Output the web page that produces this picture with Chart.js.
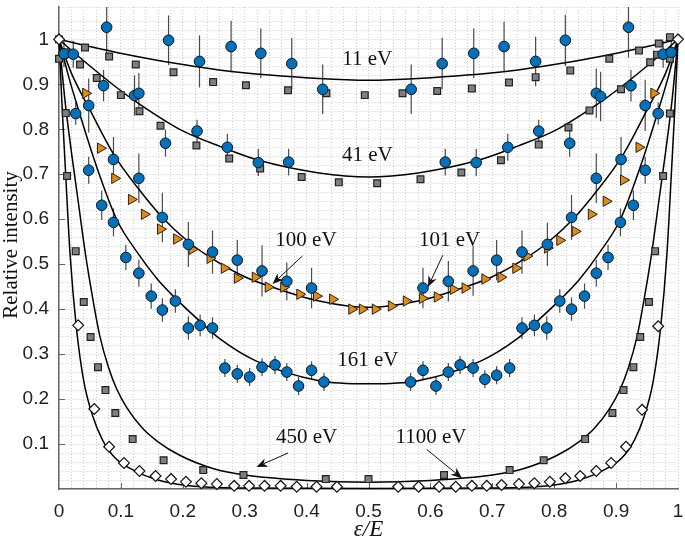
<!DOCTYPE html>
<html>
<head>
<meta charset="utf-8">
<script src="https://cdn.jsdelivr.net/npm/chart.js@4.4.1/dist/chart.umd.min.js"></script>
<style>
  html, body { margin: 0; padding: 0; background: #fff; }
</style>
</head>
<body>
<canvas id="chart" width="685" height="543"></canvas>
<script>
// theory curves
const curve11X = [0, 0.04, 0.093, 0.195, 0.275, 0.42, 0.5, 0.58, 0.725, 0.805, 0.907, 0.96, 1];
const curve11Y = [1, 0.987, 0.971, 0.945, 0.929, 0.913, 0.909, 0.913, 0.929, 0.945, 0.971, 0.987, 1];

const curve41X = [0, 0.035, 0.093, 0.13, 0.195, 0.26, 0.323, 0.42, 0.5, 0.58, 0.677, 0.74, 0.805, 0.87, 0.907, 0.965, 1];
const curve41Y = [1, 0.958, 0.893, 0.856, 0.80, 0.762, 0.731, 0.703, 0.694, 0.703, 0.731, 0.762, 0.80, 0.856, 0.893, 0.958, 1];

const curve100X = [0, 0.02, 0.05, 0.088, 0.13, 0.167, 0.209, 0.25, 0.3, 0.34, 0.42, 0.5, 0.58, 0.66, 0.7, 0.75, 0.791, 0.833, 0.87, 0.912, 0.95, 0.98, 1];
const curve100Y = [1, 0.925, 0.843, 0.745, 0.665, 0.604, 0.55, 0.51, 0.472, 0.451, 0.418, 0.404, 0.418, 0.451, 0.472, 0.51, 0.55, 0.604, 0.665, 0.745, 0.843, 0.925, 1];

const curve161X = [0, 0.015, 0.03, 0.06, 0.093, 0.127, 0.16, 0.195, 0.23, 0.259, 0.318, 0.42, 0.5, 0.58, 0.682, 0.741, 0.77, 0.805, 0.84, 0.873, 0.907, 0.94, 0.97, 0.985, 1];
const curve161Y = [1, 0.92, 0.85, 0.72, 0.60, 0.525, 0.465, 0.415, 0.37, 0.335, 0.285, 0.241, 0.234, 0.241, 0.285, 0.335, 0.37, 0.415, 0.465, 0.525, 0.60, 0.72, 0.85, 0.92, 1];

const curve450X = [0, 0.01, 0.02, 0.03, 0.043, 0.055, 0.066, 0.08, 0.093, 0.11, 0.135, 0.16, 0.195, 0.25, 0.3, 0.4, 0.5, 0.6, 0.7, 0.75, 0.805, 0.84, 0.865, 0.89, 0.907, 0.92, 0.934, 0.945, 0.957, 0.97, 0.98, 0.99, 1];
const curve450Y = [1, 0.86, 0.75, 0.65, 0.52, 0.42, 0.34, 0.27, 0.223, 0.18, 0.135, 0.105, 0.075, 0.045, 0.031, 0.019, 0.015, 0.019, 0.031, 0.045, 0.075, 0.105, 0.135, 0.18, 0.223, 0.27, 0.34, 0.42, 0.52, 0.65, 0.75, 0.86, 1];

const curve1100X = [0, 0.005, 0.01, 0.018, 0.028, 0.04, 0.055, 0.07, 0.09, 0.12, 0.16, 0.2, 0.3, 0.5, 0.7, 0.8, 0.84, 0.88, 0.91, 0.93, 0.945, 0.96, 0.972, 0.982, 0.99, 0.995, 1];
const curve1100Y = [1, 0.85, 0.72, 0.52, 0.36, 0.24, 0.16, 0.11, 0.07, 0.042, 0.02, 0.009, 0.002, 0.001, 0.002, 0.009, 0.02, 0.042, 0.07, 0.11, 0.16, 0.24, 0.36, 0.52, 0.72, 0.85, 1];

// measured points, blue circles with error bars
const circ11X = [0.077, 0.177, 0.227, 0.278, 0.326, 0.376, 0.426, 0.569, 0.619, 0.670, 0.719, 0.770, 0.818, 0.920];
const circ11Y = [1.027, 0.998, 0.951, 0.984, 0.969, 0.946, 0.889, 0.889, 0.946, 0.969, 0.984, 0.951, 0.998, 1.027];
const circ11Err = [0.07, 0.055, 0.058, 0.057, 0.055, 0.057, 0.055, 0.055, 0.057, 0.055, 0.055, 0.055, 0.057, 0.067];

const circ41X = [0.008, 0.023, 0.027, 0.048, 0.072, 0.122, 0.129, 0.172, 0.223, 0.272, 0.322, 0.371, 0.624, 0.674, 0.725, 0.775, 0.825, 0.868, 0.875, 0.924, 0.947, 0.968, 0.976, 0.989];
const circ41Y = [0.968, 0.967, 0.835, 0.853, 0.897, 0.875, 0.880, 0.769, 0.796, 0.760, 0.726, 0.727, 0.727, 0.726, 0.760, 0.796, 0.769, 0.880, 0.873, 0.897, 0.853, 0.835, 0.967, 0.971];
const circ41Err = [0.03, 0.03, 0.025, 0.06, 0.035, 0.045, 0.045, 0.03, 0.025, 0.03, 0.03, 0.03, 0.03, 0.03, 0.03, 0.025, 0.03, 0.055, 0.055, 0.035, 0.057, 0.025, 0.03, 0.03];

const circ100X = [0.048, 0.088, 0.129, 0.167, 0.209, 0.248, 0.288, 0.328, 0.368, 0.408, 0.588, 0.629, 0.669, 0.707, 0.748, 0.789, 0.828, 0.868, 0.908, 0.947];
const circ100Y = [0.709, 0.733, 0.691, 0.604, 0.544, 0.527, 0.509, 0.485, 0.462, 0.447, 0.447, 0.462, 0.485, 0.509, 0.527, 0.544, 0.604, 0.691, 0.733, 0.709];
const circ100Err = [0.03, 0.05, 0.055, 0.055, 0.05, 0.048, 0.045, 0.057, 0.042, 0.045, 0.045, 0.045, 0.055, 0.045, 0.048, 0.048, 0.05, 0.055, 0.05, 0.03];

const circ161X = [0.069, 0.088, 0.108, 0.129, 0.149, 0.167, 0.188, 0.209, 0.228, 0.248, 0.268, 0.288, 0.308, 0.328, 0.349, 0.368, 0.387, 0.408, 0.428, 0.568, 0.588, 0.609, 0.629, 0.648, 0.669, 0.688, 0.707, 0.728, 0.748, 0.768, 0.788, 0.809, 0.828, 0.849, 0.868, 0.887, 0.907, 0.928];
const circ161Y = [0.631, 0.593, 0.515, 0.480, 0.429, 0.398, 0.418, 0.358, 0.364, 0.358, 0.269, 0.256, 0.249, 0.271, 0.276, 0.260, 0.229, 0.264, 0.238, 0.238, 0.264, 0.229, 0.260, 0.276, 0.269, 0.244, 0.253, 0.269, 0.358, 0.364, 0.358, 0.418, 0.400, 0.429, 0.480, 0.515, 0.593, 0.631];
const circ161Err = [0.033, 0.031, 0.028, 0.03, 0.028, 0.026, 0.026, 0.026, 0.024, 0.024, 0.02, 0.02, 0.02, 0.02, 0.02, 0.02, 0.02, 0.02, 0.02, 0.02, 0.02, 0.02, 0.02, 0.02, 0.02, 0.02, 0.02, 0.02, 0.024, 0.024, 0.026, 0.026, 0.026, 0.028, 0.03, 0.028, 0.031, 0.033];

// orange triangles (100 eV)
const tri100X = [0.018, 0.043, 0.067, 0.09, 0.117, 0.138, 0.164, 0.190, 0.215, 0.244, 0.267, 0.288, 0.317, 0.338, 0.363, 0.389, 0.416, 0.442, 0.473, 0.490, 0.511, 0.537, 0.561, 0.587, 0.611, 0.637, 0.656, 0.688, 0.714, 0.738, 0.756, 0.789, 0.809, 0.834, 0.860, 0.884, 0.912, 0.937, 0.961];
const tri100Y = [0.969, 0.880, 0.758, 0.691, 0.644, 0.611, 0.578, 0.556, 0.533, 0.513, 0.491, 0.469, 0.471, 0.449, 0.449, 0.433, 0.429, 0.422, 0.400, 0.400, 0.400, 0.407, 0.418, 0.424, 0.427, 0.444, 0.447, 0.467, 0.471, 0.491, 0.518, 0.536, 0.553, 0.573, 0.611, 0.640, 0.687, 0.760, 0.880];

// gray squares
const sq11X = [0, 0.042, 0.081, 0.124, 0.185, 0.249, 0.302, 0.37, 0.432, 0.494, 0.555, 0.611, 0.667, 0.727, 0.770, 0.826, 0.889, 0.937, 0.969, 0.987];
const sq11Y = [1, 0.982, 0.962, 0.944, 0.927, 0.905, 0.898, 0.887, 0.880, 0.876, 0.880, 0.885, 0.891, 0.904, 0.916, 0.931, 0.957, 0.975, 0.991, 1.005];
const sq41X = [0.034, 0.061, 0.1, 0.130, 0.164, 0.222, 0.275, 0.325, 0.392, 0.452, 0.514, 0.584, 0.650, 0.714, 0.775, 0.823, 0.857, 0.908, 0.955, 0.966];
const sq41Y = [0.944, 0.914, 0.876, 0.840, 0.808, 0.764, 0.735, 0.713, 0.694, 0.682, 0.680, 0.689, 0.704, 0.731, 0.766, 0.804, 0.842, 0.889, 0.949, 0.966];
const sq450X = [0, 0.011, 0.013, 0.027, 0.040, 0.051, 0.063, 0.075, 0.091, 0.119, 0.169, 0.233, 0.298, 0.431, 0.500, 0.622, 0.728, 0.783, 0.850, 0.894, 0.912, 0.928, 0.939, 0.953, 0.963, 0.976, 0.987, 0.987];
const sq450Y = [0.957, 0.836, 0.696, 0.529, 0.416, 0.338, 0.271, 0.220, 0.169, 0.111, 0.064, 0.042, 0.031, 0.022, 0.022, 0.031, 0.042, 0.064, 0.111, 0.169, 0.220, 0.271, 0.338, 0.416, 0.529, 0.696, 0.835, 0.957];

// white diamonds (1100 eV)
const dia1100X = [0, 0.031, 0.057, 0.081, 0.105, 0.130, 0.156, 0.181, 0.205, 0.230, 0.255, 0.283, 0.307, 0.332, 0.358, 0.384, 0.416, 0.449, 0.548, 0.581, 0.614, 0.641, 0.667, 0.691, 0.715, 0.743, 0.768, 0.793, 0.818, 0.842, 0.868, 0.892, 0.916, 0.942, 0.968, 1];
const dia1100Y = [1, 0.364, 0.178, 0.094, 0.058, 0.040, 0.029, 0.022, 0.016, 0.013, 0.011, 0.007, 0.007, 0.007, 0.007, 0.005, 0.005, 0.005, 0.005, 0.005, 0.005, 0.005, 0.007, 0.007, 0.009, 0.011, 0.013, 0.016, 0.024, 0.029, 0.040, 0.058, 0.094, 0.176, 0.362, 1];

// text annotations
const labelText = ['11 eV', '41 eV', '100 eV', '101 eV', '161 eV', '450 eV', '1100 eV'];
const labelX = [0.498, 0.498, 0.399, 0.631, 0.499, 0.4, 0.601];
const labelY = [0.956, 0.741, 0.553, 0.553, 0.285, 0.115, 0.115];
const arrowFromX = [0.393, 0.620, 0.370, 0.594];
const arrowFromY = [0.518, 0.520, 0.080, 0.088];
const arrowToX = [0.345, 0.596, 0.319, 0.651];
const arrowToY = [0.456, 0.449, 0.049, 0.024];

const pts = (xs, ys) => xs.map((x, i) => ({ x: x, y: ys[i] }));

function curve(xs, ys) {
  return {
    type: 'line', data: pts(xs, ys), borderColor: '#000', borderWidth: 1.5,
    pointRadius: 0, fill: false, cubicInterpolationMode: 'monotone', order: 10, clip: false
  };
}
function markers(xs, ys, style) {
  return Object.assign({ type: 'scatter', data: pts(xs, ys), showLine: false, clip: false }, style);
}

const circleStyle = { pointStyle: 'circle', pointRadius: 5.3, pointBackgroundColor: '#0072BD', pointBorderColor: '#111', pointBorderWidth: 1, order: 1 };
const squareStyle = { pointStyle: 'rect', pointRadius: 4.8, pointBackgroundColor: '#7f7f7f', pointBorderColor: '#222', pointBorderWidth: 1.2, order: 3 };
const diamondStyle = { pointStyle: 'rectRot', pointRadius: 5.4, pointBackgroundColor: '#fff', pointBorderColor: '#111', pointBorderWidth: 1.2, order: 2 };
const triStyle = { pointStyle: 'triangle', pointRotation: 90, pointRadius: 6, pointBackgroundColor: '#E5890F', pointBorderColor: '#222', pointBorderWidth: 1, order: 2 };

const errSets = [[circ11X, circ11Y, circ11Err], [circ41X, circ41Y, circ41Err], [circ100X, circ100Y, circ100Err], [circ161X, circ161Y, circ161Err]];

function majorLabel(v, showZero) {
  const t = Math.round(v * 10);
  if (Math.abs(v * 10 - t) > 1e-6) return '';
  if (t === 0 && !showZero) return '';
  if (t > 10) return '';
  if (t === 10) return '1';
  if (t === 0) return '0';
  return '0.' + t;
}

const decorations = {
  id: 'decorations',
  beforeDatasetsDraw(chart) {
    const { ctx, chartArea: a, scales: { x, y } } = chart;
    ctx.save();
    // inward tick marks
    ctx.strokeStyle = '#666';
    ctx.lineWidth = 1;
    for (let t = 1; t <= 10; t++) {
      const py = Math.round(y.getPixelForValue(t / 10)) + 0.5;
      ctx.beginPath(); ctx.moveTo(a.left, py); ctx.lineTo(a.left + 6, py); ctx.stroke();
      if (t < 10) {
        const px = Math.round(x.getPixelForValue(t / 10)) + 0.5;
        ctx.beginPath(); ctx.moveTo(px, a.bottom); ctx.lineTo(px, a.bottom - 6); ctx.stroke();
      }
    }
    // error bars
    ctx.beginPath();
    ctx.rect(a.left - 8, a.top, a.right - a.left + 16, a.bottom - a.top);
    ctx.clip();
    ctx.strokeStyle = '#4a4a4a';
    ctx.lineWidth = 1.2;
    errSets.forEach(([xs, ys, es]) => {
      xs.forEach((xv, i) => {
        const px = x.getPixelForValue(xv);
        ctx.beginPath();
        ctx.moveTo(px, y.getPixelForValue(ys[i] - es[i]));
        ctx.lineTo(px, y.getPixelForValue(ys[i] + es[i]));
        ctx.stroke();
      });
    });
    ctx.restore();
  },
  afterDatasetsDraw(chart) {
    const { ctx, scales: { x, y } } = chart;
    ctx.save();
    ctx.fillStyle = '#111';
    ctx.font = '21px "Liberation Serif"';
    ctx.textAlign = 'center';
    ctx.textBaseline = 'middle';
    labelText.forEach((s, i) => {
      ctx.fillText(s, x.getPixelForValue(labelX[i]), y.getPixelForValue(labelY[i]));
    });
    ctx.strokeStyle = '#111';
    ctx.lineWidth = 1;
    arrowFromX.forEach((fx, i) => {
      const x1 = x.getPixelForValue(fx), y1 = y.getPixelForValue(arrowFromY[i]);
      const x2 = x.getPixelForValue(arrowToX[i]), y2 = y.getPixelForValue(arrowToY[i]);
      const ang = Math.atan2(y2 - y1, x2 - x1);
      const len = 11, half = 4.5;
      ctx.beginPath(); ctx.moveTo(x1, y1);
      ctx.lineTo(x2 - Math.cos(ang) * len * 0.7, y2 - Math.sin(ang) * len * 0.7); ctx.stroke();
      ctx.beginPath();
      ctx.moveTo(x2, y2);
      ctx.lineTo(x2 - Math.cos(ang) * len - Math.sin(ang) * half, y2 - Math.sin(ang) * len + Math.cos(ang) * half);
      ctx.lineTo(x2 - Math.cos(ang) * len * 0.7, y2 - Math.sin(ang) * len * 0.7);
      ctx.lineTo(x2 - Math.cos(ang) * len + Math.sin(ang) * half, y2 - Math.sin(ang) * len - Math.cos(ang) * half);
      ctx.closePath();
      ctx.fill();
    });
    ctx.restore();
  },
  afterDraw(chart) {
    const { ctx, chartArea: a } = chart;
    ctx.save();
    ctx.fillStyle = '#111';
    ctx.textAlign = 'center';
    ctx.textBaseline = 'middle';
    ctx.font = 'italic 23px "Liberation Serif"';
    ctx.fillText('ε/E', (a.left + a.right) / 2, 530);
    ctx.translate(11, 245);
    ctx.rotate(-Math.PI / 2);
    ctx.font = '21px "Liberation Serif"';
    ctx.fillText('Relative intensity', 0, 0);
    ctx.restore();
  }
};

Chart.defaults.font.family = '"Liberation Sans", Arial, sans-serif';
Chart.defaults.color = '#222';

new Chart(document.getElementById('chart'), {
  type: 'scatter',
  data: {
    datasets: [
      curve(curve11X, curve11Y),
      curve(curve41X, curve41Y),
      curve(curve100X, curve100Y),
      curve(curve161X, curve161Y),
      curve(curve450X, curve450Y),
      curve(curve1100X, curve1100Y),
      markers(sq11X, sq11Y, squareStyle),
      markers(sq41X, sq41Y, squareStyle),
      markers(sq450X, sq450Y, squareStyle),
      markers(dia1100X, dia1100Y, diamondStyle),
      markers(tri100X, tri100Y, triStyle),
      markers(circ11X, circ11Y, circleStyle),
      markers(circ41X, circ41Y, circleStyle),
      markers(circ100X, circ100Y, circleStyle),
      markers(circ161X, circ161Y, circleStyle)
    ]
  },
  options: {
    responsive: false,
    animation: false,
    devicePixelRatio: 1,
    layout: { padding: { top: 0, right: 5, left: 0, bottom: 0 } },
    plugins: { legend: { display: false }, tooltip: { enabled: false } },
    scales: {
      x: {
        type: 'linear', min: 0, max: 1,
        afterFit: s => { s.height = 54; s.paddingLeft = 0; s.paddingRight = 0; },
        ticks: {
          stepSize: 0.02, autoSkip: false, maxRotation: 0, padding: 11,
          font: { size: 19 }, color: '#222',
          callback: v => majorLabel(v, true)
        },
        grid: { color: '#cdcdcd', lineWidth: 1, drawTicks: false },
        border: { display: true, color: '#666', width: 1.5, dash: [1, 2] }
      },
      y: {
        type: 'linear', min: 0, max: 1.072,
        afterFit: s => { s.width = 59; s.paddingTop = 0; s.paddingBottom = 0; },
        ticks: {
          stepSize: 0.02, autoSkip: false, padding: 10,
          font: { size: 19 }, color: '#222',
          callback: v => majorLabel(v, false)
        },
        grid: { color: '#cdcdcd', lineWidth: 1, drawTicks: false },
        border: { display: true, color: '#666', width: 1.5, dash: [1, 2] }
      }
    }
  },
  plugins: [decorations]
});
</script>
</body>
</html>
